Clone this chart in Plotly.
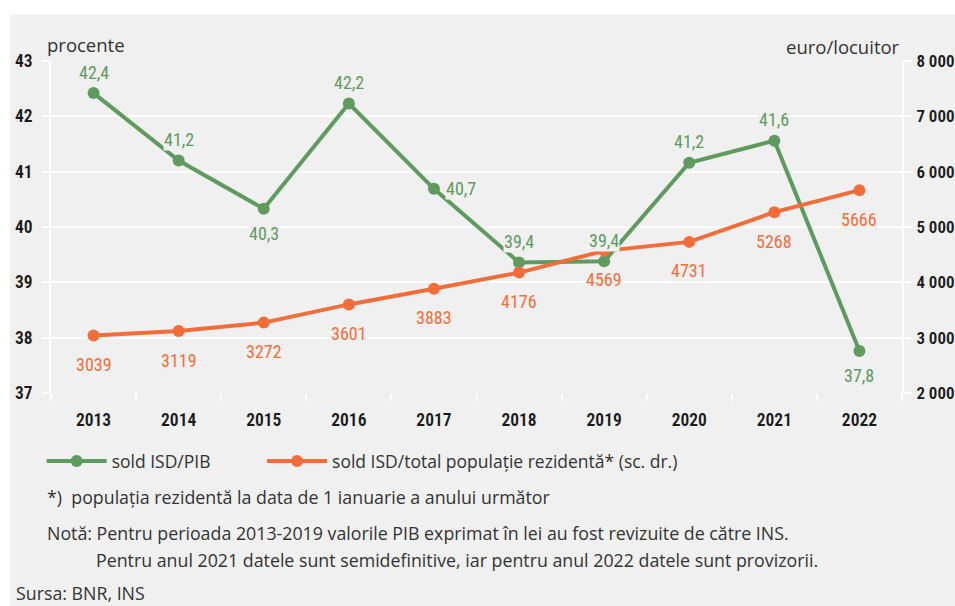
import plotly.graph_objects as go

years = ["2013", "2014", "2015", "2016", "2017", "2018", "2019", "2020", "2021", "2022"]
isd_pib = [42.42, 41.2, 40.33, 42.23, 40.69, 39.36, 39.38, 41.16, 41.56, 37.76]
isd_pop = [3039, 3119, 3272, 3601, 3883, 4176, 4569, 4731, 5268, 5666]
left_ticks = [37, 38, 39, 40, 41, 42, 43]
right_ticks = [2000, 3000, 4000, 5000, 6000, 7000, 8000]
right_tick_text = ["2 000", "3 000", "4 000", "5 000", "6 000", "7 000", "8 000"]
green_label_pos = ["above", "above", "below", "above", "right", "above", "above", "above", "above", "below"]

GREEN = "#5f9a5e"
ORANGE = "#f36d3a"
BG = "#f0f0f0"
COND = "Roboto Condensed, Roboto, sans-serif"
SANS = "Open Sans, Noto Sans, sans-serif"
TXT = "#333333"

xi = list(range(len(years)))

fig = go.Figure()
fig.add_trace(go.Scatter(
    x=xi, y=isd_pib, name="sold ISD/PIB", mode="lines+markers",
    line=dict(color=GREEN, width=4), marker=dict(size=12, color=GREEN),
    yaxis="y", legend="legend"))
fig.add_trace(go.Scatter(
    x=xi, y=isd_pop, name="sold ISD/total populație rezidentă* (sc. dr.)",
    mode="lines+markers",
    line=dict(color=ORANGE, width=4), marker=dict(size=12, color=ORANGE),
    yaxis="y2", legend="legend2"))

annotations = []
for i, v, pos in zip(xi, isd_pib, green_label_pos):
    txt = f"{v:.1f}".replace(".", ",")
    a = dict(x=i, y=v, xref="x", yref="y", text=txt, showarrow=False,
             font=dict(family=COND, size=18, color=GREEN), bgcolor=BG, borderpad=0)
    if pos == "above":
        a.update(yshift=21)
    elif pos == "below":
        a.update(yshift=-25)
    else:
        a.update(xshift=27)
    annotations.append(a)
for i, v in zip(xi, isd_pop):
    annotations.append(dict(x=i, y=v, xref="x", yref="y2", text=str(v), showarrow=False,
                            yshift=-29, font=dict(family=COND, size=18, color=ORANGE),
                            bgcolor=BG, borderpad=0))

# axis titles
annotations.append(dict(x=-0.0075, y=1.0, xref="paper", yref="paper", xanchor="left", yanchor="bottom",
                        yshift=2, text="procente", showarrow=False,
                        font=dict(family=SANS, size=18.5, color=TXT)))
annotations.append(dict(x=1.0, y=1.0, xref="paper", yref="paper", xanchor="right", yanchor="bottom",
                        yshift=0, text="euro/locuitor", showarrow=False,
                        font=dict(family=SANS, size=18.5, color=TXT)))

# footnotes
foot_font = dict(family=SANS, size=17.8, color=TXT)
annotations += [
    dict(x=-0.007, y=-0.313, xref="paper", yref="paper", xanchor="left", yanchor="middle",
         text="*)  populația rezidentă la data de 1 ianuarie a anului următor", showarrow=False, font=foot_font),
    dict(x=-0.007, y=-0.422, xref="paper", yref="paper", xanchor="left", yanchor="middle",
         text="Notă: Pentru perioada 2013-2019 valorile PIB exprimat în lei au fost revizuite de către INS.",
         showarrow=False, font=foot_font),
    dict(x=0.0505, y=-0.503, xref="paper", yref="paper", xanchor="left", yanchor="middle",
         text="Pentru anul 2021 datele sunt semidefinitive, iar pentru anul 2022 datele sunt provizorii.",
         showarrow=False, font=foot_font),
    dict(x=-0.0435, y=-0.602, xref="paper", yref="paper", xanchor="left", yanchor="middle",
         text="Sursa: BNR, INS", showarrow=False, font=foot_font),
]

tickfont = dict(family=COND, size=17.5, color="#1a1a1a", weight=600)
rtickfont = dict(family=COND, size=17, color="#1a1a1a", weight=600)
legfont = dict(family=SANS, size=17.5, color=TXT)

fig.update_layout(
    width=955, height=606,
    margin=dict(l=51, r=53, t=61, b=213, autoexpand=False),
    paper_bgcolor=BG, plot_bgcolor=BG,
    showlegend=True,
    legend=dict(orientation="h", x=-0.011, y=-0.205, xanchor="left", yanchor="middle",
                font=legfont, bgcolor="rgba(0,0,0,0)", itemwidth=60),
    legend2=dict(orientation="h", x=0.248, y=-0.205, xanchor="left", yanchor="middle",
                 font=legfont, bgcolor="rgba(0,0,0,0)", itemwidth=60),
    xaxis=dict(range=[-0.5, len(years) - 0.5], tickvals=xi, ticktext=years,
               showgrid=False, ticks="", zeroline=False, showline=False, automargin=False,
               ticklabelstandoff=14,
               minor=dict(ticks="outside", tick0=-0.5, dtick=1, ticklen=7,
                          tickcolor="white", tickwidth=2, showgrid=False),
               tickfont=tickfont),
    yaxis=dict(range=[37, 43], tickvals=left_ticks, showgrid=True, gridcolor="white", gridwidth=2,
               ticks="outside", ticklen=7, tickcolor="white", tickwidth=2, automargin=False,
               showline=True, linecolor="white", linewidth=2, zeroline=False,
               ticklabelstandoff=6, tickfont=tickfont),
    yaxis2=dict(range=[2000, 8000], tickvals=right_ticks, ticktext=right_tick_text,
                overlaying="y", side="right", showgrid=False, automargin=False,
                ticks="outside", ticklen=7, tickcolor="white", tickwidth=2,
                showline=True, linecolor="white", linewidth=2, zeroline=False,
                ticklabelstandoff=2, tickfont=rtickfont),
    annotations=annotations,
    shapes=[
        dict(type="rect", xref="paper", yref="paper", x0=-0.1, x1=1.1, y0=1.139, y1=1.3,
             fillcolor="white", line=dict(width=0), layer="below"),
        dict(type="rect", xref="paper", yref="paper", x0=-0.1, x1=-0.048, y0=-0.7, y1=1.3,
             fillcolor="white", line=dict(width=0), layer="below"),
    ],
)

fig.write_html("out.html", config={"displayModeBar": False},
               post_script="document.body.style.margin='0';document.body.style.overflow='hidden';")
